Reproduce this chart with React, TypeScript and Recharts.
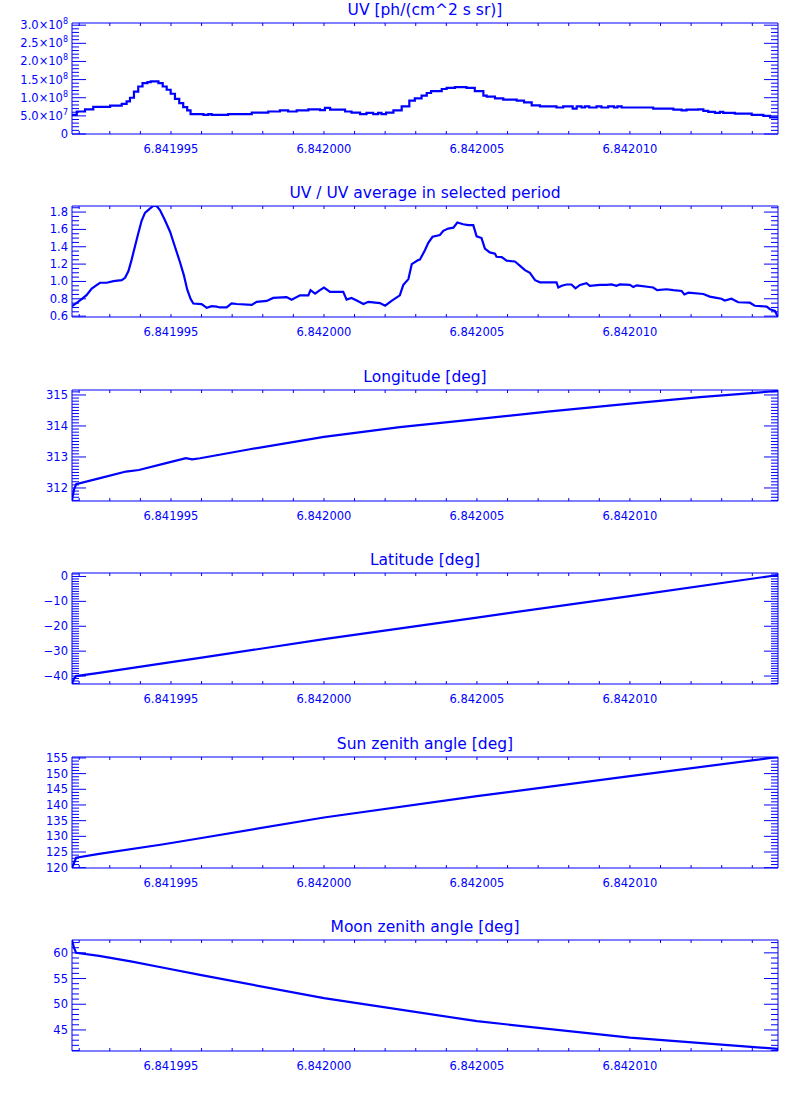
import React from "react";
import { LineChart, Line, XAxis, YAxis, ReferenceLine } from "recharts";

const BLUE = "#0000ff";
const FONT = "'DejaVu Sans', sans-serif";
const PLOT_W = 706;
const PLOT_H = 111;

// time axis, in units of 1e-6 relative to 6.842000
const X_MIN = -8.235;
const X_MAX = 14.84;
const xMajorTicks = [-5, 0, 5, 10];
const xTickLabels = ["6.841995", "6.842000", "6.842005", "6.842010"];

// UV [ph/(cm^2 s sr)] (histogram steps)
const uvTime = [
  -8.235, -8.08, -7.81, -7.54, -6.99, -6.61, -6.45, -6.34, -6.21, -6.07, -5.93,
  -5.77, -5.66, -5.41, -5.27, -5.14, -5.01, -4.87, -4.73, -4.6, -4.47, -4.36,
  -3.94, -3.78, -3.67, -3.13, -2.36, -1.82, -1.44, -1.17, -0.89, -0.51, -0.13,
  0.03, 0.2, 0.69, 0.9, 1.18, 1.39, 1.61, 1.77, 1.88, 2.03, 2.27, 2.54, 2.79,
  2.97, 3.19, 3.36, 3.5, 3.85, 4.01, 4.28, 4.66, 4.93, 5.21, 5.32, 5.59, 5.86,
  6.3, 6.54, 6.79, 7.06, 7.6, 7.82, 8.13, 8.26, 8.42, 8.53, 8.67, 8.91, 9.07,
  9.29, 9.48, 9.59, 9.73, 10.76, 11.42, 11.69, 11.85, 12.23, 12.4, 12.56,
  12.78, 12.94, 13.05, 13.43, 13.98, 14.36, 14.58, 14.84,
];
const uvFlux = [
  5.3e7, 6.2e7, 6.8e7, 7.5e7, 7.8e7, 8.3e7, 9.0e7, 1.0e8, 1.17e8, 1.31e8, 1.4e8,
  1.43e8, 1.45e8, 1.4e8, 1.31e8, 1.22e8, 1.11e8, 9.7e7, 8.5e7, 7.4e7, 6.5e7,
  5.5e7, 5.3e7, 5.5e7, 5.3e7, 5.5e7, 5.9e7, 6.2e7, 6.5e7, 6.2e7, 6.5e7, 6.8e7,
  6.6e7, 7.2e7, 6.7e7, 6.2e7, 5.9e7, 5.5e7, 5.8e7, 5.5e7, 5.8e7, 5.5e7, 5.9e7,
  6.5e7, 7.6e7, 9.2e7, 9.8e7, 1.06e8, 1.13e8, 1.18e8, 1.24e8, 1.27e8, 1.29e8,
  1.27e8, 1.18e8, 1.06e8, 1.03e8, 9.8e7, 9.5e7, 9.2e7, 8.7e7, 7.9e7, 7.6e7,
  7.3e7, 7.6e7, 7.0e7, 7.6e7, 7.3e7, 7.6e7, 7.3e7, 7.6e7, 7.3e7, 7.6e7, 7.3e7,
  7.6e7, 7.3e7, 7.0e7, 6.7e7, 6.5e7, 6.7e7, 6.8e7, 6.4e7, 6.1e7, 5.8e7, 6.1e7,
  5.8e7, 5.6e7, 5.3e7, 5.0e7, 4.6e7, 4.6e7,
];

// UV / UV average in selected period
const ratioTime = [
  -8.235, -8.08, -7.92, -7.76, -7.59, -7.43, -7.32, -7.1, -6.88, -6.61, -6.5,
  -6.39, -6.29, -6.18, -6.07, -5.96, -5.85, -5.69, -5.58, -5.47, -5.36, -5.2,
  -5.03, -4.87, -4.71, -4.58, -4.47, -4.36, -4.27, -4.0, -3.83, -3.67, -3.51,
  -3.4, -3.18, -3.02, -2.85, -2.36, -2.2, -1.87, -1.66, -1.22, -1.06, -0.78,
  -0.51, -0.44, -0.29, -0.13, 0, 0.2, 0.63, 0.74, 0.9, 1.07, 1.29, 1.45, 1.83,
  2.0, 2.21, 2.48, 2.59, 2.76, 2.87, 3.08, 3.14, 3.3, 3.41, 3.55, 3.79, 3.9,
  4.06, 4.23, 4.36, 4.55, 4.72, 4.88, 4.99, 5.15, 5.26, 5.42, 5.59, 5.64, 5.81,
  5.97, 6.24, 6.41, 6.57, 6.73, 6.9, 7.06, 7.6, 7.66, 7.77, 7.93, 8.09, 8.22,
  8.37, 8.58, 8.69, 9.02, 9.24, 9.4, 9.56, 9.67, 10.0, 10.11, 10.22, 10.76,
  10.89, 11.2, 11.42, 11.69, 11.78, 11.91, 12.4, 12.61, 12.83, 12.99, 13.1,
  13.32, 13.54, 13.92, 14.08, 14.47, 14.58, 14.74, 14.84,
];
const ratioValue = [
  0.715, 0.753, 0.796, 0.842, 0.919, 0.958, 0.985, 0.985, 1.004, 1.015, 1.042,
  1.12, 1.246, 1.4, 1.554, 1.7, 1.79, 1.84, 1.87, 1.87, 1.823, 1.708, 1.573,
  1.4, 1.227, 1.073, 0.908, 0.8, 0.746, 0.738, 0.695, 0.715, 0.71, 0.7, 0.7,
  0.746, 0.74, 0.73, 0.765, 0.775, 0.81, 0.82, 0.79, 0.84, 0.84, 0.9, 0.86, 0.9,
  0.93, 0.88, 0.88, 0.79, 0.81, 0.78, 0.74, 0.765, 0.75, 0.72, 0.775, 0.84,
  0.958, 1.027, 1.2, 1.246, 1.254, 1.36, 1.446, 1.515, 1.535, 1.584, 1.61, 1.62,
  1.68, 1.66, 1.65, 1.65, 1.52, 1.5, 1.38, 1.335, 1.32, 1.285, 1.28, 1.24, 1.23,
  1.18, 1.13, 1.1, 1.015, 0.99, 0.99, 0.93, 0.95, 0.965, 0.965, 0.92, 0.96,
  0.98, 0.95, 0.96, 0.96, 0.965, 0.95, 0.965, 0.96, 0.935, 0.955, 0.93, 0.9,
  0.91, 0.9, 0.89, 0.85, 0.87, 0.855, 0.825, 0.81, 0.8, 0.78, 0.8, 0.76, 0.755,
  0.72, 0.71, 0.68, 0.66, 0.59,
];

// Longitude [deg]
const lonTime = [-8.235, -8.17, -8.1, -7.35, -6.47, -6.05, -5.16, -4.51, -4.31, -4.05, -2.42, 0, 2.48, 5, 7.39, 10, 12.29, 14.84];
const lonValue = [311.6, 311.95, 312.12, 312.31, 312.53, 312.58, 312.8, 312.96, 312.92, 312.96, 313.25, 313.65, 313.96, 314.22, 314.47, 314.72, 314.93, 315.13];

// Latitude [deg]
const latTime = [-8.235, -8.17, -8.1, -7.35, -5.16, -4.05, 0, 5, 10, 14.84];
const latValue = [-43.2, -41.0, -40.0, -38.7, -34.7, -32.7, -25.2, -16.5, -7.9, 0.6];

// Sun zenith angle [deg]
const sunTime = [-8.235, -8.17, -8.1, -7.35, -5.29, -4.05, 0, 5, 10, 14.84];
const sunValue = [119.9, 121.5, 123.2, 124.4, 127.4, 129.4, 136.0, 142.8, 149.2, 155.3];

// Moon zenith angle [deg]
const moonTime = [-8.235, -8.17, -8.1, -7.35, -6.27, -5.16, -4.05, 0, 5, 10, 14.84];
const moonValue = [62.5, 61.0, 60.0, 59.4, 58.3, 57.0, 55.7, 51.2, 46.7, 43.5, 41.3];

function rows(t: number[], v: number[]) {
  return t.map((u, i) => ({ t: u, v: v[i] }));
}

function minorTicks(lo: number, hi: number, step: number) {
  const out: number[] = [];
  for (let k = Math.ceil(lo / step - 1e-9); k * step <= hi + 1e-9; k++) {
    out.push(Number((k * step).toFixed(6)));
  }
  return out;
}

const xTicks = minorTicks(X_MIN, X_MAX, 1);

function XTick(props: any) {
  const { x, y, payload } = props;
  const i = xMajorTicks.findIndex((m) => Math.abs(m - payload.value) < 1e-6);
  const top = y - PLOT_H;
  return (
    <g>
      <line x1={x} x2={x} y1={y} y2={y - 3} stroke={BLUE} />
      <line x1={x} x2={x} y1={top} y2={top + 3} stroke={BLUE} />
      {i >= 0 && (
        <text x={x} y={y + 19} textAnchor="middle" fill={BLUE} fontSize={11.5} fontFamily={FONT}>
          {xTickLabels[i]}
        </text>
      )}
    </g>
  );
}

function YTick(props: any) {
  const { x, y, payload, majors, labels, step } = props;
  const i = majors.findIndex((m: number) => Math.abs(m - payload.value) < step * 0.01);
  const len = i >= 0 ? 14 : 7;
  const right = x + PLOT_W;
  let label: React.ReactNode = null;
  if (i >= 0) {
    const [mant, exp] = String(labels[i]).split("^");
    label = (
      <text x={x - 4} y={y + 4} textAnchor="end" fill={BLUE} fontSize={11.5} fontFamily={FONT}>
        {mant}
        {exp && (
          <tspan dy={-5} fontSize={8}>
            {exp}
          </tspan>
        )}
      </text>
    );
  }
  return (
    <g>
      <line x1={x} x2={x + len} y1={y} y2={y} stroke={BLUE} />
      <line x1={right} x2={right - len} y1={y} y2={y} stroke={BLUE} />
      {label}
    </g>
  );
}

interface PanelProps {
  top: number;
  title: string;
  data: { t: number; v: number }[];
  yDomain: [number, number];
  yMajors: number[];
  yLabels: string[];
  yStep: number;
  step?: boolean;
}

function Panel({ top, title, data, yDomain, yMajors, yLabels, yStep, step }: PanelProps) {
  const yTicks = minorTicks(yDomain[0], yDomain[1], yStep);
  return (
    <div style={{ position: "absolute", left: 0, top, width: 800, height: 183 }}>
      <div
        style={{
          position: "absolute",
          left: 72,
          top: 2,
          width: PLOT_W,
          textAlign: "center",
          color: BLUE,
          fontFamily: FONT,
          fontSize: 15.5,
          lineHeight: "16px",
        }}
      >
        {title}
      </div>
      <LineChart width={800} height={183} data={data} margin={{ top: 23, right: 22, left: 0, bottom: 0 }}>
        <XAxis
          dataKey="t"
          type="number"
          domain={[X_MIN, X_MAX]}
          allowDataOverflow
          ticks={xTicks}
          interval={0}
          height={49}
          tickSize={0}
          tickMargin={0}
          tickLine={false}
          axisLine={{ stroke: BLUE }}
          tick={(p: any) => <XTick {...p} />}
        />
        <YAxis
          type="number"
          domain={yDomain}
          allowDataOverflow
          ticks={yTicks}
          interval={0}
          width={72}
          tickSize={0}
          tickMargin={0}
          tickLine={false}
          axisLine={{ stroke: BLUE }}
          tick={(p: any) => <YTick {...p} majors={yMajors} labels={yLabels} step={yStep} />}
        />
        <ReferenceLine y={yDomain[1]} stroke={BLUE} />
        <ReferenceLine x={X_MAX} stroke={BLUE} />
        <Line
          dataKey="v"
          type={step ? "stepAfter" : "linear"}
          stroke={BLUE}
          strokeWidth={2.2}
          dot={false}
          isAnimationActive={false}
        />
      </LineChart>
    </div>
  );
}

export default function App() {
  return (
    <div style={{ position: "absolute", left: 0, top: 0, width: 800, height: 1100, background: "#fff" }}>
      <Panel
        top={0}
        title="UV [ph/(cm^2 s sr)]"
        data={rows(uvTime, uvFlux)}
        yDomain={[0, 3.06e8]}
        yMajors={[0, 5e7, 1e8, 1.5e8, 2e8, 2.5e8, 3e8]}
        yLabels={["0", "5.0×10^7", "1.0×10^8", "1.5×10^8", "2.0×10^8", "2.5×10^8", "3.0×10^8"]}
        yStep={1e7}
        step
      />
      <Panel
        top={183}
        title="UV / UV average in selected period"
        data={rows(ratioTime, ratioValue)}
        yDomain={[0.59, 1.87]}
        yMajors={[0.6, 0.8, 1.0, 1.2, 1.4, 1.6, 1.8]}
        yLabels={["0.6", "0.8", "1.0", "1.2", "1.4", "1.6", "1.8"]}
        yStep={0.05}
      />
      <Panel
        top={367}
        title="Longitude [deg]"
        data={rows(lonTime, lonValue)}
        yDomain={[311.58, 315.16]}
        yMajors={[312, 313, 314, 315]}
        yLabels={["312", "313", "314", "315"]}
        yStep={0.1}
      />
      <Panel
        top={550}
        title="Latitude [deg]"
        data={rows(latTime, latValue)}
        yDomain={[-43.2, 1.4]}
        yMajors={[-40, -30, -20, -10, 0]}
        yLabels={["−40", "−30", "−20", "−10", "0"]}
        yStep={1}
      />
      <Panel
        top={734}
        title="Sun zenith angle [deg]"
        data={rows(sunTime, sunValue)}
        yDomain={[119.9, 155.3]}
        yMajors={[120, 125, 130, 135, 140, 145, 150, 155]}
        yLabels={["120", "125", "130", "135", "140", "145", "150", "155"]}
        yStep={1}
      />
      <Panel
        top={917}
        title="Moon zenith angle [deg]"
        data={rows(moonTime, moonValue)}
        yDomain={[40.9, 62.5]}
        yMajors={[45, 50, 55, 60]}
        yLabels={["45", "50", "55", "60"]}
        yStep={1}
      />
    </div>
  );
}
